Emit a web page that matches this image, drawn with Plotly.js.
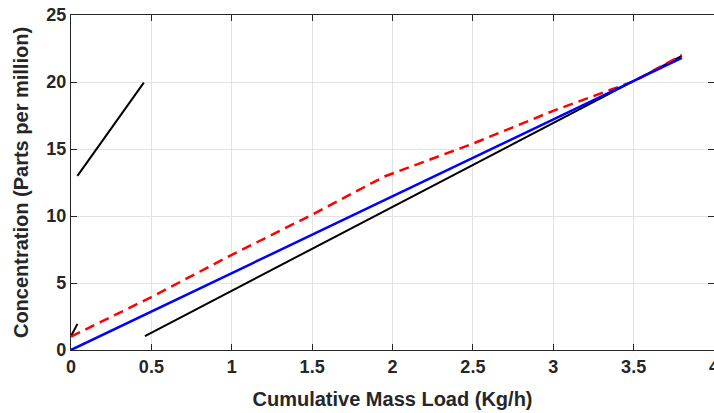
<!DOCTYPE html>
<html>
<head>
<meta charset="utf-8">
<script src="https://cdn.plot.ly/plotly-3.0.1.min.js"></script>
<style>html,body{margin:0;padding:0;background:#fff;}#chart{width:714px;height:413px;}</style>
</head>
<body>
<div id="chart"></div>
<script>
// Data
const blueX = [0, 3.8];
const blueY = [0, 21.8];

const redX = [0, 0.5, 1.0, 1.5, 1.95, 2.5, 3.0, 3.5, 3.8];
const redY = [1.0, 3.95, 7.1, 10.1, 12.95, 15.4, 17.85, 20.05, 22.0];

const blackLongX = [0.46, 3.8];
const blackLongY = [1.04, 21.95];

const blackShortX = [0.04, 0.453];
const blackShortY = [13.0, 19.95];

const blackTinyX = [0.003, 0.04];
const blackTinyY = [1.1, 1.95];

const xTicks = [0, 0.5, 1, 1.5, 2, 2.5, 3, 3.5, 4];
const xTickText = ['0', '0.5', '1', '1.5', '2', '2.5', '3', '3.5', '4'];
const yTicks = [0, 5, 10, 15, 20, 25];

const traces = [
  {x: blackShortX, y: blackShortY, mode: 'lines', line: {color: '#000000', width: 2}},
  {x: blackTinyX, y: blackTinyY, mode: 'lines', line: {color: '#000000', width: 2}},
  {x: blackLongX, y: blackLongY, mode: 'lines', line: {color: '#000000', width: 2}},
  {x: redX, y: redY, mode: 'lines', line: {color: '#ff0000', width: 2.5, dash: '10px,6px'}},
  {x: blueX, y: blueY, mode: 'lines', line: {color: '#0000ff', width: 2.5}}
];

const tickFont = {family: 'Liberation Sans, Arial, sans-serif', size: 18, color: '#262626', weight: 'bold'};
const titleFont = {family: 'Liberation Sans, Arial, sans-serif', size: 20, color: '#262626', weight: 'bold'};

const layout = {
  width: 714, height: 413,
  margin: {l: 71, r: 0, t: 15, b: 63},
  paper_bgcolor: '#ffffff', plot_bgcolor: '#ffffff',
  showlegend: false,
  xaxis: {
    range: [0, 4], tickmode: 'array', tickvals: xTicks, ticktext: xTickText,
    showgrid: true, gridcolor: '#e3e3e3', gridwidth: 1, zeroline: false,
    showline: true, linecolor: '#262626', linewidth: 1.2, mirror: 'ticks',
    ticks: 'inside', ticklen: 6, tickcolor: '#262626',
    tickfont: tickFont, automargin: false, ticklabeloverflow: 'allow',
    title: {text: 'Cumulative Mass Load (Kg/h)', font: titleFont, standoff: 16}
  },
  yaxis: {
    range: [0, 25], tickmode: 'array', tickvals: yTicks,
    showgrid: true, gridcolor: '#e3e3e3', gridwidth: 1, zeroline: false,
    showline: true, linecolor: '#262626', linewidth: 1.2, mirror: 'ticks',
    ticks: 'inside', ticklen: 6, tickcolor: '#262626',
    tickfont: tickFont, automargin: false, ticklabeloverflow: 'allow',
    title: {text: 'Concentration (Parts per million)', font: titleFont, standoff: 12}
  }
};

Plotly.newPlot('chart', traces, layout, {displayModeBar: false, staticPlot: true});
</script>
</body>
</html>
